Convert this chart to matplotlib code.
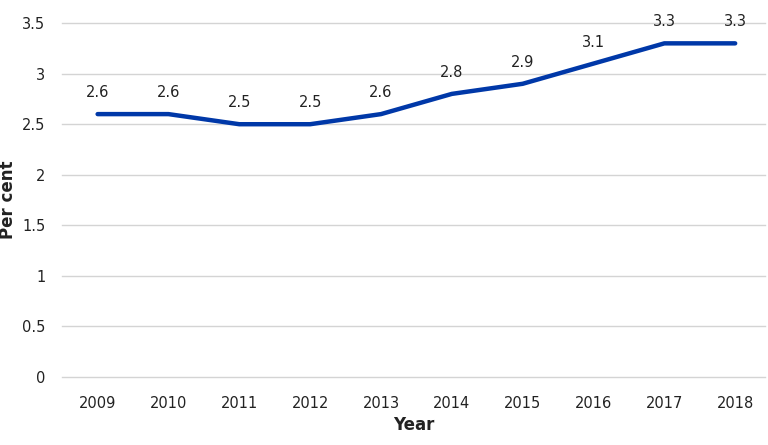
import matplotlib
matplotlib.use("Agg")
import matplotlib.pyplot as plt

years = [2009, 2010, 2011, 2012, 2013, 2014, 2015, 2016, 2017, 2018]
values = [2.6, 2.6, 2.5, 2.5, 2.6, 2.8, 2.9, 3.1, 3.3, 3.3]
yticks = [0, 0.5, 1, 1.5, 2, 2.5, 3, 3.5]
ytick_labels = ["0", "0.5", "1", "1.5", "2", "2.5", "3", "3.5"]

plt.rcParams['font.family'] = ['DejaVu Sans']

fig = plt.figure(figsize=(7.68, 4.45), dpi=100)
ax = fig.add_axes([0.081, 0.153, 0.915, 0.795])

ax.plot(years, values, color='#0038a8', lw=3.2, solid_capstyle='round', solid_joinstyle='round', zorder=3)
for x, v in zip(years, values):
    ax.annotate(f"{v:.1f}", (x, v), xytext=(0, 10), textcoords='offset points',
                ha='center', va='bottom', fontsize=10.5, color='#222222', annotation_clip=False)

ax.set_xlim(2008.5, 2018.42)
ax.set_ylim(0, 3.5)
ax.set_yticks(yticks)
ax.set_yticklabels(ytick_labels)
ax.set_xticks(years)
ax.set_xticklabels([str(y) for y in years])
ax.yaxis.grid(True, color='#d4d4d4', lw=1)
for gl in ax.get_ygridlines():
    gl.set_clip_on(False)
ax.set_axisbelow(True)
for s in ax.spines.values():
    s.set_visible(False)
ax.tick_params(length=0, labelsize=10.5, colors='#222222')
ax.tick_params(axis='x', pad=14)
ax.tick_params(axis='y', pad=12)
ax.set_ylabel("Per cent", fontsize=12, fontweight='bold', color='#222222', labelpad=4)
ax.set_xlabel("Year", fontsize=12, fontweight='bold', color='#222222', labelpad=3)

fig.savefig("out.png", dpi=100)
